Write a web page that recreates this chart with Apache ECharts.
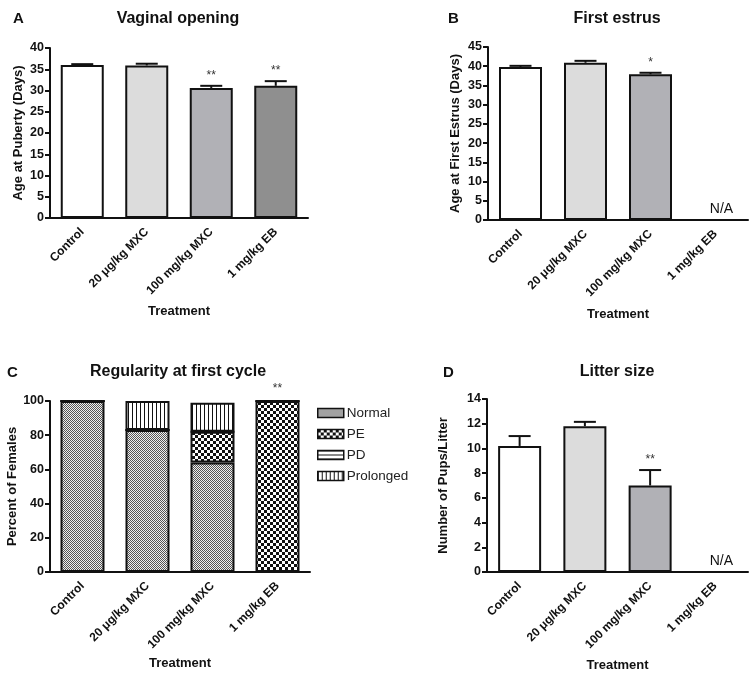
<!DOCTYPE html>
<html>
<head>
<meta charset="utf-8">
<script src="https://cdn.jsdelivr.net/npm/echarts@6/dist/echarts.min.js"></script>
<style>html,body{margin:0;padding:0;background:#fff;}#chart{width:754px;height:678px;}</style>
</head>
<body>
<div id="chart"></div>
<script>
// ---- data ----
const categories = ['Control', '20 μg/kg MXC', '100 mg/kg MXC', '1 mg/kg EB'];
const vaginalMean = [36.0, 35.9, 30.6, 31.1];
const vaginalSem = [0.2, 0.4, 0.5, 1.1];
const vaginalSig = ['', '', '**', '**'];

const estrusMean = [39.8, 40.9, 37.9, null];
const estrusSem = [0.3, 0.5, 0.4, null];
const estrusSig = ['', '', '*', ''];
const estrusNA = ['', '', '', 'N/A'];

const normalPct = [100, 83, 64, 0];
const pePct = [0, 0, 18, 100];
const pdPct = [0, 0, 0, 0];
const prolongedPct = [0, 17, 17, 0];
const regularitySig = ['', '', '', '**'];

const litterMean = [10.2, 11.8, 7.0, null];
const litterSem = [0.8, 0.35, 1.25, null];
const litterSig = ['', '', '**', ''];
const litterNA = ['', '', '', 'N/A'];

// ---- styles ----
const FONT = 'Liberation Sans, Arial, Helvetica, sans-serif';
const barColors = ['#ffffff', '#dcdcdc', '#b1b1b6', '#8f8f8f'];

function makePattern(w, h, draw) {
  const c = document.createElement('canvas');
  c.width = w; c.height = h;
  const ctx = c.getContext('2d');
  ctx.fillStyle = '#ffffff';
  ctx.fillRect(0, 0, w, h);
  draw(ctx);
  return { image: c, repeat: 'repeat' };
}
const patNormal = makePattern(2, 2, ctx => {
  ctx.fillStyle = '#efefef'; ctx.fillRect(0, 0, 2, 2);
  ctx.fillStyle = '#555555'; ctx.fillRect(0, 0, 1, 1); ctx.fillRect(1, 1, 1, 1);
});
const patPE = makePattern(6, 6, ctx => {
  ctx.fillStyle = '#111'; ctx.fillRect(0, 0, 3, 3); ctx.fillRect(3, 3, 3, 3);
});
const patPD = makePattern(4, 4, ctx => {
  ctx.fillStyle = '#111'; ctx.fillRect(0, 0, 4, 1);
});
const patProlonged = makePattern(4, 4, ctx => {
  ctx.fillStyle = '#111'; ctx.fillRect(0, 0, 1, 4);
});

const grids = [
  { left: 50, right: 446, top: 48, bottom: 460 },
  { left: 488, right: 6, top: 47, bottom: 458 },
  { left: 50, right: 444, top: 401, bottom: 106 },
  { left: 487, right: 6, top: 399, bottom: 106 }
];

function xAxis(i, gap) {
  return {
    type: 'category', gridIndex: i, data: categories,
    name: 'Treatment', nameLocation: 'middle', nameGap: gap,
    nameTextStyle: { fontFamily: FONT, fontWeight: 'bold', fontSize: 13, color: '#111' },
    axisLine: { lineStyle: { color: '#111', width: 2 } },
    axisTick: { show: false },
    axisLabel: { rotate: 45, interval: 0, margin: 12, fontFamily: FONT, fontWeight: 'bold', fontSize: 12, color: '#111' }
  };
}
function yAxis(i, name, max, interval, gap) {
  return {
    type: 'value', gridIndex: i, min: 0, max: max, interval: interval,
    name: name, nameLocation: 'middle', nameGap: gap, nameRotate: 90,
    nameTextStyle: { fontFamily: FONT, fontWeight: 'bold', fontSize: 13, color: '#111' },
    axisLine: { show: true, lineStyle: { color: '#111', width: 2 } },
    axisTick: { show: true, length: 5, lineStyle: { color: '#111', width: 2 } },
    axisLabel: { margin: 6, fontFamily: FONT, fontWeight: 'bold', fontSize: 12.5, color: '#111' },
    splitLine: { show: false }
  };
}

function meanBar(i, means) {
  return {
    type: 'bar', xAxisIndex: i, yAxisIndex: i, barWidth: 43,
    data: means.map((v, k) => v == null ? null : { value: v, itemStyle: { color: barColors[k] } }),
    itemStyle: { borderColor: '#111', borderWidth: 2 },
    silent: true, z: 2
  };
}
function errSeries(i, means, sems, sig) {
  return {
    type: 'custom', xAxisIndex: i, yAxisIndex: i, z: 5, silent: true,
    data: means.map((m, k) => [k, m == null ? 0 : m, sems[k] == null ? 0 : sems[k]]),
    renderItem: function (params, api) {
      const k = params.dataIndex;
      if (means[k] == null) return { type: 'group', children: [] };
      const m = api.value(1), e = api.value(2);
      const p0 = api.coord([api.value(0), m]);
      const p1 = api.coord([api.value(0), m + e]);
      const children = [
        { type: 'line', shape: { x1: p0[0], y1: p0[1], x2: p1[0], y2: p1[1] }, style: { stroke: '#111', lineWidth: 2 } },
        { type: 'line', shape: { x1: p1[0] - 11, y1: p1[1], x2: p1[0] + 11, y2: p1[1] }, style: { stroke: '#111', lineWidth: 2 } }
      ];
      if (sig[k]) {
        children.push({ type: 'text', x: p1[0], y: p1[1] - 4,
          style: { text: sig[k], align: 'center', verticalAlign: 'bottom', font: '12px ' + FONT, fill: '#333' } });
      }
      return { type: 'group', children: children };
    }
  };
}
function naSeries(i, labels) {
  return {
    type: 'custom', xAxisIndex: i, yAxisIndex: i, z: 5, silent: true,
    data: labels.map((t, k) => [k, 0]),
    renderItem: function (params, api) {
      const t = labels[params.dataIndex];
      if (!t) return { type: 'group', children: [] };
      const p = api.coord([api.value(0), 0]);
      return { type: 'text', x: p[0] + 6, y: p[1] - 4,
        style: { text: t, align: 'center', verticalAlign: 'bottom', font: '14px ' + FONT, fill: '#111' } };
    }
  };
}
function stackSeries(name, data, pat) {
  return {
    type: 'bar', name: name, stack: 'reg', xAxisIndex: 2, yAxisIndex: 2, barWidth: 44,
    data: data, silent: true,
    itemStyle: { color: pat, borderColor: '#111', borderWidth: 2 }
  };
}
const regSigSeries = {
  type: 'custom', xAxisIndex: 2, yAxisIndex: 2, z: 5, silent: true,
  data: regularitySig.map((s, k) => [k, normalPct[k] + pePct[k] + pdPct[k] + prolongedPct[k]]),
  renderItem: function (params, api) {
    const s = regularitySig[params.dataIndex];
    if (!s) return { type: 'group', children: [] };
    const p = api.coord([api.value(0), api.value(1)]);
    return { type: 'text', x: p[0], y: p[1] - 6,
      style: { text: s, align: 'center', verticalAlign: 'bottom', font: '12px ' + FONT, fill: '#333' } };
  }
};

const titleStyle = { fontFamily: FONT, fontWeight: 'bold', fontSize: 16, color: '#111' };
const letterStyle = { fontFamily: FONT, fontWeight: 'bold', fontSize: 15, color: '#111' };

const option = {
  backgroundColor: '#fff',
  animation: false,
  title: [
    { text: 'A', left: 13, top: 11, padding: 0, textStyle: letterStyle },
    { text: 'Vaginal opening', left: 178, top: 11, padding: 0, textAlign: 'center', textStyle: titleStyle },
    { text: 'B', left: 448, top: 11, padding: 0, textStyle: letterStyle },
    { text: 'First estrus', left: 617, top: 11, padding: 0, textAlign: 'center', textStyle: titleStyle },
    { text: 'C', left: 7, top: 365, padding: 0, textStyle: letterStyle },
    { text: 'Regularity at first cycle', left: 178, top: 364, padding: 0, textAlign: 'center', textStyle: titleStyle },
    { text: 'D', left: 443, top: 365, padding: 0, textStyle: letterStyle },
    { text: 'Litter size', left: 617, top: 364, padding: 0, textAlign: 'center', textStyle: titleStyle }
  ],
  legend: {
    data: ['Normal', 'PE', 'PD', 'Prolonged'],
    orient: 'vertical', left: 317, top: 406, padding: 0,
    itemWidth: 26, itemHeight: 9, itemGap: 7, icon: 'rect',
    itemStyle: { borderColor: '#111', borderWidth: 1.5 },
    textStyle: { fontFamily: FONT, fontSize: 13.5, color: '#222', padding: [0, 0, 0, -2] },
    selectedMode: false
  },
  grid: grids,
  xAxis: [xAxis(0, 87), xAxis(1, 88), xAxis(2, 85), xAxis(3, 87)],
  yAxis: [
    yAxis(0, 'Age at Puberty (Days)', 40, 5, 25),
    yAxis(1, 'Age at First Estrus (Days)', 45, 5, 26),
    yAxis(2, 'Percent of Females', 100, 20, 27),
    yAxis(3, 'Number of Pups/Litter', 14, 2, 37)
  ],
  series: [
    meanBar(0, vaginalMean), errSeries(0, vaginalMean, vaginalSem, vaginalSig),
    meanBar(1, estrusMean), errSeries(1, estrusMean, estrusSem, estrusSig), naSeries(1, estrusNA),
    stackSeries('Normal', normalPct, patNormal),
    stackSeries('PE', pePct, patPE),
    stackSeries('PD', pdPct, patPD),
    stackSeries('Prolonged', prolongedPct, patProlonged),
    regSigSeries,
    meanBar(3, litterMean), errSeries(3, litterMean, litterSem, litterSig), naSeries(3, litterNA)
  ]
};
const chart = echarts.init(document.getElementById('chart'), null, { renderer: 'canvas' });
chart.setOption(option);
</script>
</body>
</html>
